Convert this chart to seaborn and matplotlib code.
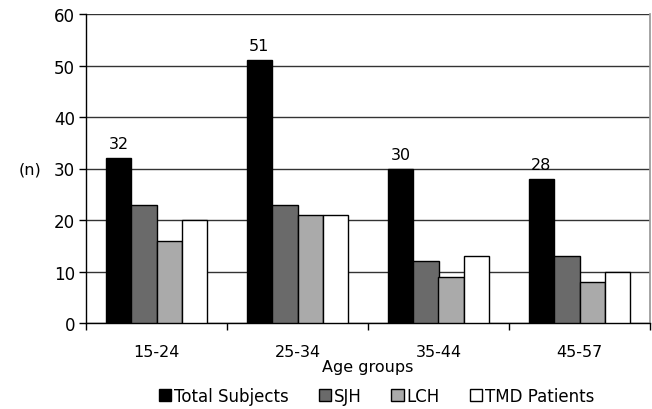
import matplotlib
matplotlib.use("Agg")
import matplotlib.pyplot as plt
from matplotlib.ticker import FixedLocator, NullFormatter
import pandas as pd
import seaborn as sns

# ── Data ──────────────────────────────────────────────────────────────────────
age_groups = ["15-24", "25-34", "35-44", "45-57"]
series = ["Total Subjects", "SJH", "LCH", "TMD Patients"]
total_subjects = [32, 51, 30, 28]
sjh = [23, 23, 12, 13]
lch = [16, 21, 9, 8]
tmd_patients = [20, 21, 13, 10]

colors = ["#000000", "#6a6a6a", "#aaaaaa", "#ffffff"]

df = pd.DataFrame({
    "Age groups": age_groups * 4,
    "group": [s for s in series for _ in age_groups],
    "n": total_subjects + sjh + lch + tmd_patients,
})

sns.set_theme(style="white")
plt.rcParams["font.family"] = ["DejaVu Sans"]
plt.rcParams["text.color"] = "black"
plt.rcParams["xtick.color"] = "black"
plt.rcParams["ytick.color"] = "black"
plt.rcParams["axes.labelcolor"] = "black"

fig = plt.figure(figsize=(6.52, 4.10), dpi=100)
ax = fig.add_axes([86 / 652, 86 / 410, 564 / 652, 309 / 410])

sns.barplot(
    data=df, x="Age groups", y="n", hue="group", hue_order=series,
    palette=colors, edgecolor="black", linewidth=1.0, width=0.72,
    saturation=1, ax=ax, zorder=3,
)

# gridlines behind bars
ax.set_ylim(0, 60)
ax.set_yticks(range(0, 61, 10))
ax.yaxis.grid(True, color="#333333", linewidth=1.0, zorder=0)
ax.set_axisbelow(True)
ax.set_xlim(-0.5, 3.5)

# value labels on Total Subjects only
ax.bar_label(ax.containers[0], padding=5, fontsize=11.5)

# ticks between groups
ax.xaxis.set_minor_locator(FixedLocator([-0.5, 0.5, 1.5, 2.5, 3.5]))
ax.xaxis.set_minor_formatter(NullFormatter())
ax.tick_params(axis="x", which="major", length=0, labelsize=11.5, pad=15)
ax.tick_params(axis="x", which="minor", bottom=True, length=5, width=1, color="black", direction="out")
ax.tick_params(axis="y", left=True, length=5, width=1, color="black", labelsize=12, pad=3)

ax.set_xlabel("Age groups", fontsize=11.5, labelpad=0)
ax.set_ylabel("(n)", rotation=0, fontsize=11.5, labelpad=0)
ax.yaxis.set_label_coords(-0.1, 0.475)

for side in ["left", "bottom"]:
    ax.spines[side].set_color("black")
    ax.spines[side].set_linewidth(1.0)
ax.spines["right"].set_color("#999999")
ax.spines["top"].set_visible(False)

handles, labels = ax.get_legend_handles_labels()
ax.legend(
    handles, labels, loc="upper center", bbox_to_anchor=(0.515, -0.185),
    ncol=4, frameon=False, fontsize=12, handlelength=0.75, handleheight=0.75,
    handletextpad=0.15, columnspacing=1.8, borderaxespad=0,
)

fig.savefig("out.png", dpi=100)
